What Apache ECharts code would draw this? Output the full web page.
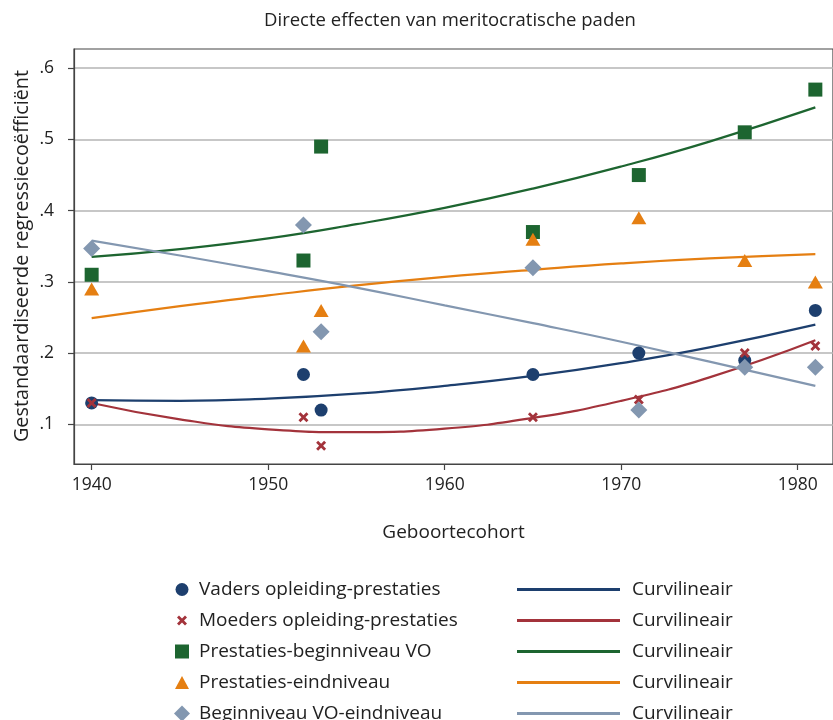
<!DOCTYPE html>
<html>
<head>
<meta charset="utf-8">
<script src="https://cdn.jsdelivr.net/npm/echarts@6/dist/echarts.min.js"></script>
<style>
html,body{margin:0;padding:0;background:#fff;}
#c{width:833px;height:720px;}
</style>
</head>
<body>
<div id="c"></div>
<script>
// ---- data ----
const cohorts = [1940, 1952, 1953, 1965, 1971, 1977, 1981];
const vaders  = [0.13, 0.17, 0.12, 0.17, 0.20, 0.19, 0.26];
const moeders = [0.13, 0.11, 0.07, 0.11, 0.135, 0.20, 0.21];
const begin   = [0.31, 0.33, 0.49, 0.37, 0.45, 0.51, 0.57];
const eind    = [0.29, 0.21, 0.26, 0.36, 0.39, 0.33, 0.30];
const vo      = [0.347, 0.38, 0.23, 0.32, 0.12, 0.18, 0.18];

const fitYears   = [1940, 1945, 1950, 1955, 1960, 1965, 1970, 1975, 1981];
const vadersFit  = [0.134, 0.133, 0.136, 0.143, 0.154, 0.168, 0.186, 0.208, 0.240];
const moedersFit = [0.130, 0.107, 0.093, 0.089, 0.094, 0.109, 0.133, 0.166, 0.218];
const beginFit   = [0.335, 0.346, 0.361, 0.381, 0.404, 0.431, 0.462, 0.497, 0.545];
const eindFit    = [0.249, 0.266, 0.281, 0.295, 0.307, 0.317, 0.326, 0.333, 0.339];
const voFit      = [0.358, 0.337, 0.315, 0.292, 0.267, 0.242, 0.216, 0.188, 0.154];

const seriesNames = ['Vaders opleiding-prestaties', 'Moeders opleiding-prestaties',
  'Prestaties-beginniveau VO', 'Prestaties-eindniveau', 'Beginniveau VO-eindniveau'];
const fitLabel = 'Curvilineair';
const yTicks = [0.1, 0.2, 0.3, 0.4, 0.5, 0.6];
const xTicks = [1940, 1950, 1960, 1970, 1980];

const titleText = 'Directe effecten van meritocratische paden';
const xName = 'Geboortecohort';
const yName = 'Gestandaardiseerde regressiecoëfficiënt';

// ---- styling ----
const FONT = 'Open Sans';
const FS = 19;
const colors = ['#1d3f6e', '#a3333b', '#1d6530', '#e57f12', '#8397b0'];
const crossPath = 'path://M2,0 L5,3 L8,0 L10,2 L7,5 L10,8 L8,10 L5,7 L2,10 L0,8 L3,5 L0,2 Z';
const symbols = ['circle', crossPath, 'rect', 'triangle', 'diamond'];
const symSizes = [13, 10, 14, [15, 13], 17];
const legendIconSizes = [[13, 13], [10, 10], [14, 14], [14, 13], [16, 16]];

const scatterData = [vaders, moeders, begin, eind, vo];
const fitData = [vadersFit, moedersFit, beginFit, eindFit, voFit];
const fitNames = seriesNames.map((n, i) => 'fit' + i);

const series = [];
fitData.forEach((arr, i) => {
  series.push({
    name: fitNames[i], type: 'line', smooth: true, symbol: 'none', z: 2,
    data: fitYears.map((y, k) => [y, arr[k]]),
    lineStyle: { color: colors[i], width: 2.2 },
    itemStyle: { color: colors[i] },
    silent: true
  });
});
scatterData.forEach((arr, i) => {
  series.push({
    name: seriesNames[i], type: 'scatter', z: 3,
    symbol: symbols[i], symbolSize: symSizes[i],
    data: cohorts.map((y, k) => [y, arr[k]]),
    itemStyle: { color: colors[i], opacity: 1 }
  });
});

// one legend per row so that rows are evenly spaced
const ROW0 = 588, PITCH = 31;
const legends = [];
seriesNames.forEach((n, i) => {
  const [w, h] = legendIconSizes[i];
  legends.push({
    data: [n], orient: 'horizontal', left: 182 - w / 2, top: ROW0 + i * PITCH - 8, padding: 0,
    itemWidth: w, itemHeight: h,
    textStyle: { fontFamily: FONT, fontSize: FS, color: '#222', padding: [0, 0, 0, 199 - (182 + w / 2) - 5] },
    selectedMode: false
  });
  legends.push({
    data: [fitNames[i]], orient: 'horizontal', left: 517, top: ROW0 + i * PITCH - 8, padding: 0,
    icon: 'rect', itemWidth: 103, itemHeight: 3,
    formatter: () => fitLabel,
    textStyle: { fontFamily: FONT, fontSize: FS, color: '#222', padding: [0, 0, 0, 7] },
    selectedMode: false
  });
});

const chart = echarts.init(document.getElementById('c'), null, { renderer: 'canvas' });
chart.setOption({
  animation: false,
  backgroundColor: '#fff',
  textStyle: { fontFamily: FONT },
  title: {
    text: titleText, left: 445, top: 6, textAlign: 'center',
    textStyle: { fontFamily: FONT, fontSize: 18.5, fontWeight: 'normal', color: '#222' }
  },
  grid: { left: 74, right: -3, top: 49, bottom: 256, show: true, borderColor: '#444', borderWidth: 1.2, backgroundColor: 'transparent' },
  xAxis: {
    type: 'value', min: 1939, max: 1982,
    name: xName, nameLocation: 'middle', nameGap: 59,
    nameTextStyle: { fontFamily: FONT, fontSize: FS, color: '#222' },
    axisLine: { show: true, lineStyle: { color: '#444', width: 1.2 } },
    axisTick: { show: true, length: 6, customValues: xTicks, lineStyle: { color: '#444', width: 1.2 } },
    axisLabel: { customValues: xTicks, margin: 12, fontFamily: FONT, fontSize: 17.5, color: '#222',
      formatter: v => String(Math.round(v)) },
    splitLine: { show: false }
  },
  yAxis: {
    type: 'value', min: 0.0443, max: 0.627,
    axisLine: { show: true, lineStyle: { color: '#444', width: 1.2 } },
    axisTick: { show: true, length: 6, customValues: yTicks, lineStyle: { color: '#444', width: 1.2 } },
    axisLabel: { customValues: yTicks, margin: 20, fontFamily: FONT, fontSize: 17.5, color: '#222',
      formatter: v => v.toFixed(1).replace(/^0/, '') },
    splitLine: { show: true, lineStyle: { color: '#b5b5b5', width: 1.5 } }
  },
  legend: legends,
  graphic: [{
    type: 'text', x: 22, y: 256, rotation: Math.PI / 2,
    style: { text: yName, font: '19.8px "Open Sans"', fill: '#222', textAlign: 'center', textVerticalAlign: 'middle' }
  }],
  series: series
});
</script>
</body>
</html>
